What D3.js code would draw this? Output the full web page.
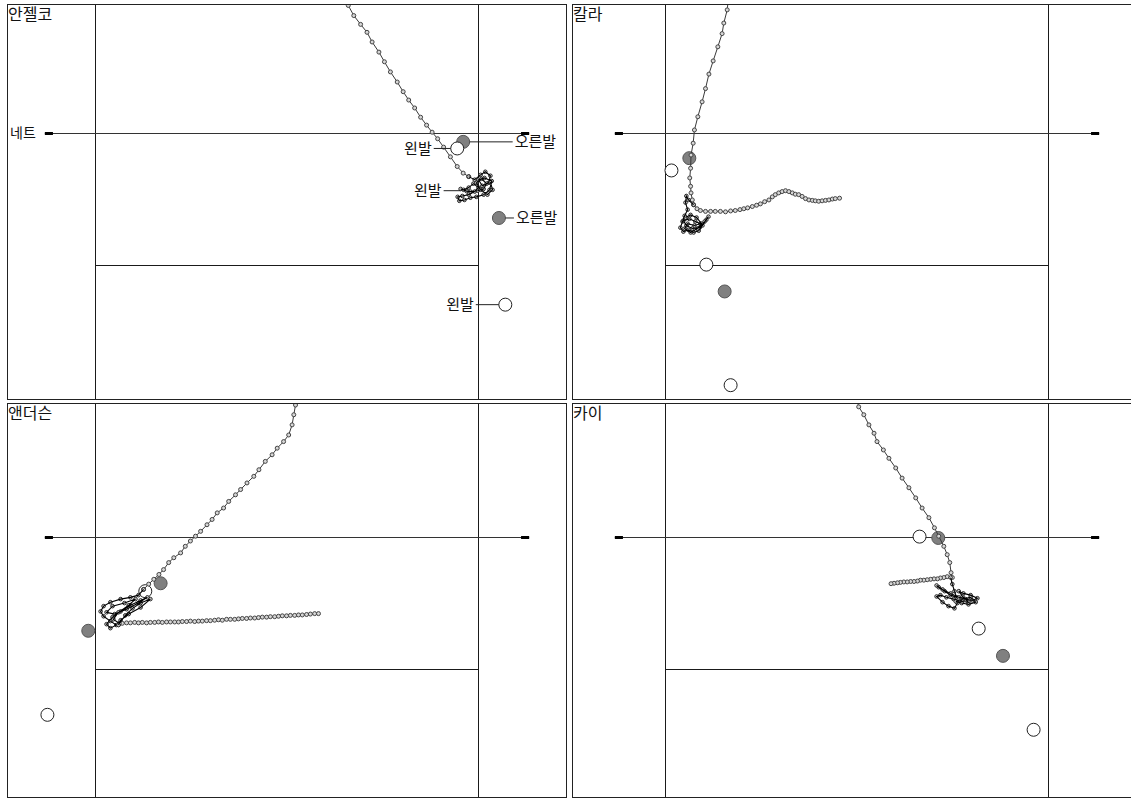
<!DOCTYPE html>
<html>
<head>
<meta charset="utf-8">
<script src="https://cdn.jsdelivr.net/npm/d3@7"></script>
<style>
html, body { margin: 0; padding: 0; background: #fff; }
svg { display: block; font-family: "Noto Sans CJK KR", "Noto Sans", sans-serif; }
</style>
</head>
<body>
<svg id="chart" width="1131" height="798"></svg>
<script>
// ---- Court and labels (metres: x across the court from centre, y from the net) ----
const players = ["안젤코", "칼라", "앤더슨", "카이"];
const netText = "네트";
const courtHalfWidth = 4.5;     // sideline
const attackLine = 3;           // 3 m line
const netHalfLength = 5.69;
const postLength = 0.19;

// ---- 안젤코 ----
const angelkoPath = [[1.39,-3.09],[1.44,-2.91],[1.57,-2.68],[1.73,-2.48],[1.88,-2.30],[2.00,-2.08],[2.16,-1.85],[2.29,-1.63],[2.43,-1.40],[2.59,-1.17],[2.73,-0.95],[2.86,-0.76],[3.00,-0.58],[3.14,-0.37],[3.28,-0.19],[3.41,-0.03],[3.54,0.12],[3.68,0.31],[3.84,0.53],[4.00,0.75],[4.14,0.90],[4.27,0.98]];
const angelkoSwing = [[4.27,0.98],[4.41,1.05],[4.55,0.94],[4.66,0.87],[4.78,0.96],[4.74,1.12],[4.59,1.19],[4.50,1.05],[4.64,1.01],[4.81,1.08],[4.76,1.28],[4.62,1.39],[4.45,1.44],[4.31,1.46],[4.17,1.51],[4.05,1.53],[4.01,1.44],[4.12,1.42],[4.27,1.39],[4.41,1.32],[4.50,1.23],[4.38,1.14],[4.27,1.23],[4.15,1.28],[4.08,1.26],[4.22,1.31],[4.31,1.32],[4.48,1.30],[4.62,1.26],[4.69,1.14],[4.57,1.03],[4.45,1.12],[4.55,1.28],[4.71,1.39],[4.83,1.28],[4.78,1.10]];
const angelkoFeet = [["R",4.14,0.19],["L",4.00,0.34],["R",4.98,1.92],["L",5.13,3.89]];
const angelkoNotes = [["오른발",4.14,0.19],["왼발",4.00,0.34],["왼발",4.08,1.30],["오른발",4.98,1.92],["왼발",5.13,3.89]];

// ---- 칼라 ----
const karlaPath = [[-3.02,-3.09],[-3.05,-2.81],[-3.13,-2.51],[-3.17,-2.27],[-3.27,-1.97],[-3.38,-1.65],[-3.48,-1.35],[-3.56,-1.02],[-3.64,-0.72],[-3.74,-0.38],[-3.82,-0.08],[-3.85,0.22],[-3.90,0.49],[-3.91,0.79],[-3.93,1.01],[-3.91,1.20],[-3.90,1.35],[-3.87,1.51],[-3.84,1.62],[-3.76,1.71],[-3.68,1.75],[-3.56,1.77],[-3.44,1.77],[-3.33,1.77],[-3.21,1.77],[-3.09,1.78],[-2.97,1.76],[-2.86,1.75],[-2.75,1.73],[-2.66,1.71],[-2.57,1.69],[-2.46,1.66],[-2.36,1.63],[-2.27,1.60],[-2.17,1.55],[-2.07,1.51],[-1.99,1.44],[-1.92,1.39],[-1.84,1.35],[-1.76,1.32],[-1.68,1.30],[-1.60,1.32],[-1.52,1.35],[-1.45,1.38],[-1.37,1.39],[-1.29,1.43],[-1.21,1.48],[-1.13,1.51],[-1.05,1.52],[-0.98,1.53],[-0.90,1.54],[-0.82,1.53],[-0.74,1.52],[-0.66,1.51],[-0.58,1.49],[-0.51,1.48],[-0.41,1.47]];
const karlaSwing = [[-3.84,1.62],[-3.96,1.51],[-4.01,1.42],[-4.03,1.57],[-3.98,1.73],[-4.05,1.87],[-4.10,2.00],[-4.15,2.14],[-4.08,2.23],[-3.96,2.19],[-3.84,2.25],[-3.72,2.21],[-3.63,2.09],[-3.54,1.96],[-3.49,1.89],[-3.58,2.00],[-3.70,2.14],[-3.87,2.16],[-4.01,2.09],[-4.08,1.98],[-3.94,1.94],[-3.80,2.00],[-3.68,2.05],[-3.82,2.09],[-3.98,2.05],[-4.05,2.16],[-3.91,2.25],[-3.75,2.16],[-3.65,2.05],[-3.77,1.91],[-3.91,1.85],[-4.03,1.91]];
const karlaFeet = [["R",-3.94,0.56],["L",-4.36,0.84],["L",-3.54,2.98],["R",-3.11,3.59],["L",-2.97,5.72]];

// ---- 앤더슨 ----
const andersonPath = [[0.22,-3.17],[0.20,-3.01],[0.16,-2.79],[0.12,-2.56],[0.04,-2.33],[-0.08,-2.18],[-0.23,-2.03],[-0.35,-1.88],[-0.51,-1.73],[-0.66,-1.54],[-0.78,-1.39],[-0.94,-1.24],[-1.09,-1.09],[-1.21,-0.97],[-1.37,-0.82],[-1.49,-0.67],[-1.64,-0.56],[-1.76,-0.41],[-1.88,-0.29],[-2.03,-0.14],[-2.15,-0.03],[-2.27,0.08],[-2.39,0.20],[-2.50,0.35],[-2.66,0.46],[-2.78,0.57],[-2.90,0.73],[-3.01,0.84],[-3.13,0.95],[-3.25,1.06],[-3.37,1.18]];
const andersonRunout = [[-3.96,1.98],[-3.87,1.95],[-3.77,1.94],[-3.68,1.94],[-3.58,1.93],[-3.49,1.94],[-3.40,1.93],[-3.30,1.94],[-3.21,1.93],[-3.11,1.93],[-3.02,1.92],[-2.93,1.93],[-2.83,1.92],[-2.74,1.92],[-2.64,1.92],[-2.55,1.92],[-2.46,1.91],[-2.36,1.91],[-2.27,1.90],[-2.17,1.91],[-2.08,1.90],[-1.99,1.90],[-1.89,1.89],[-1.80,1.89],[-1.70,1.88],[-1.61,1.87],[-1.52,1.88],[-1.42,1.86],[-1.33,1.86],[-1.23,1.86],[-1.14,1.85],[-1.05,1.84],[-0.95,1.84],[-0.86,1.83],[-0.76,1.83],[-0.67,1.82],[-0.58,1.81],[-0.48,1.81],[-0.39,1.80],[-0.29,1.80],[-0.20,1.79],[-0.11,1.78],[-0.01,1.78],[0.08,1.77],[0.18,1.77],[0.27,1.76],[0.36,1.76],[0.46,1.75],[0.55,1.74],[0.65,1.73],[0.74,1.73]];
const andersonSwing = [[-3.37,1.18],[-3.49,1.31],[-3.68,1.36],[-3.91,1.40],[-4.15,1.47],[-4.31,1.56],[-4.38,1.68],[-4.31,1.79],[-4.15,1.90],[-4.01,1.99],[-4.15,2.06],[-4.24,1.97],[-4.10,1.81],[-3.91,1.68],[-3.68,1.54],[-3.44,1.43],[-3.28,1.36],[-3.49,1.49],[-3.77,1.63],[-4.05,1.74],[-4.24,1.70],[-4.10,1.56],[-3.82,1.49],[-3.56,1.40],[-3.72,1.54],[-3.96,1.70],[-4.08,1.86],[-3.94,1.95],[-3.80,1.77],[-3.63,1.61],[-3.44,1.49],[-3.21,1.40],[-3.44,1.59],[-3.72,1.74],[-3.91,1.88],[-3.96,1.99]];
const andersonFeet = [["R",-2.97,1.04],["L",-3.33,1.22],["R",-4.67,2.12],["L",-5.63,4.03]];

// ---- 카이 ----
const kaiPath = [[-0.01,-3.17],[0.04,-2.97],[0.16,-2.79],[0.28,-2.56],[0.40,-2.37],[0.47,-2.18],[0.62,-1.99],[0.75,-1.80],[0.91,-1.58],[1.06,-1.35],[1.22,-1.13],[1.38,-0.90],[1.53,-0.67],[1.69,-0.45],[1.82,-0.22],[1.92,-0.03],[2.04,0.20],[2.12,0.39],[2.18,0.57],[2.21,0.80],[2.24,0.91],[2.12,0.89],[2.04,0.91],[1.96,0.92],[1.89,0.94],[1.81,0.94],[1.73,0.95],[1.65,0.96],[1.57,0.97],[1.49,0.97],[1.42,0.99],[1.34,1.00],[1.26,1.00],[1.18,1.01],[1.10,1.01],[1.02,1.02],[0.95,1.03],[0.87,1.04],[0.80,1.05]];
const kaiSwing = [[2.20,0.91],[2.24,1.06],[2.29,1.22],[2.34,1.36],[2.20,1.31],[2.06,1.22],[1.92,1.13],[1.87,1.09],[2.01,1.18],[2.20,1.27],[2.39,1.36],[2.55,1.40],[2.71,1.43],[2.83,1.38],[2.67,1.31],[2.50,1.27],[2.39,1.22],[2.48,1.34],[2.62,1.47],[2.43,1.45],[2.27,1.40],[2.10,1.36],[1.96,1.31],[1.87,1.34],[2.01,1.47],[2.15,1.56],[2.29,1.61],[2.36,1.49],[2.48,1.40],[2.67,1.36],[2.79,1.47],[2.62,1.52],[2.46,1.49],[2.32,1.45]];
const kaiFeet = [["L",1.47,-0.02],["R",1.91,0.01],["L",2.86,2.07],["R",3.43,2.69],["L",4.15,4.37]];

// ---- Layout ----
const frameX = [[7.5, 566.5], [572.5, 1131.5]];
const frameY = [[4.5, 399.5], [403.5, 797.5]];
const sideX  = [[95.5, 478.5], [665.5, 1048.5]];
const netY   = [133.5, 537.5];
const lineY  = [265.5, 669.5];
const footR = 6.5;
// leader lines for the foot notes: [gap from target, length]
const noteLeaders = [[6.5, 43], [6.5, 17], [0, 17], [6.5, 8.5], [6.5, 23]];

const panels = [
  { name: players[0], col: 0, row: 0, paths: [angelkoPath], swing: angelkoSwing, feet: angelkoFeet, notes: angelkoNotes, netNote: true },
  { name: players[1], col: 1, row: 0, paths: [karlaPath], swing: karlaSwing, feet: karlaFeet, notes: [] },
  { name: players[2], col: 0, row: 1, paths: [andersonPath, andersonRunout], swing: andersonSwing, feet: andersonFeet, notes: [] },
  { name: players[3], col: 1, row: 1, paths: [kaiPath], swing: kaiSwing, feet: kaiFeet, notes: [] }
];

const svg = d3.select("#chart");
const defs = svg.append("defs");

panels.forEach((p, i) => {
  const fx = frameX[p.col], fy = frameY[p.row];
  const x = d3.scaleLinear().domain([-courtHalfWidth, courtHalfWidth]).range(sideX[p.col]);
  const y = d3.scaleLinear().domain([0, attackLine]).range([netY[p.row], lineY[p.row]]);

  defs.append("clipPath").attr("id", "clip" + i)
    .append("rect").attr("x", fx[0]).attr("y", fy[0])
    .attr("width", fx[1] - fx[0]).attr("height", fy[1] - fy[0]);

  const g = svg.append("g");
  const inner = g.append("g").attr("clip-path", `url(#clip${i})`);

  // sidelines
  [-courtHalfWidth, courtHalfWidth].forEach(v => {
    inner.append("line").attr("x1", x(v)).attr("x2", x(v))
      .attr("y1", fy[0]).attr("y2", fy[1])
      .attr("stroke", "#1a1a1a").attr("stroke-width", 1);
  });
  // attack line
  inner.append("line").attr("x1", x(-courtHalfWidth)).attr("x2", x(courtHalfWidth))
    .attr("y1", y(attackLine)).attr("y2", y(attackLine))
    .attr("stroke", "#1a1a1a").attr("stroke-width", 1);
  // net and posts
  inner.append("line").attr("x1", x(-netHalfLength)).attr("x2", x(netHalfLength))
    .attr("y1", y(0)).attr("y2", y(0))
    .attr("stroke", "#333").attr("stroke-width", 1);
  [[-netHalfLength, -netHalfLength + postLength], [netHalfLength - postLength, netHalfLength]].forEach(s => {
    inner.append("line").attr("x1", x(s[0])).attr("x2", x(s[1]))
      .attr("y1", y(0)).attr("y2", y(0))
      .attr("stroke", "#000").attr("stroke-width", 3);
  });

  // footprints
  inner.selectAll("circle.foot").data(p.feet).join("circle")
    .attr("class", "foot")
    .attr("cx", d => x(d[1])).attr("cy", d => y(d[2])).attr("r", footR)
    .attr("fill", d => d[0] === "R" ? "#808080" : "#fff")
    .attr("stroke", d => d[0] === "R" ? "#555" : "#222")
    .attr("stroke-width", 1);

  const line = d3.line().x(d => x(d[0])).y(d => y(d[1]));

  // approach paths with sample markers
  p.paths.forEach(path => {
    inner.append("path").attr("d", line(path))
      .attr("fill", "none").attr("stroke", "#3a3a3a").attr("stroke-width", 1);
    inner.append("g").selectAll("circle").data(path).join("circle")
      .attr("cx", d => x(d[0])).attr("cy", d => y(d[1])).attr("r", 2)
      .attr("fill", "#d6d6d6").attr("stroke", "#444").attr("stroke-width", 1);
  });

  // swing tangle
  inner.append("g").selectAll("circle").data(p.swing).join("circle")
    .attr("cx", d => x(d[0])).attr("cy", d => y(d[1])).attr("r", 1.8)
    .attr("fill", "#ddd").attr("stroke", "#222").attr("stroke-width", 1);
  inner.append("path").attr("d", line(p.swing))
    .attr("fill", "none").attr("stroke", "#000").attr("stroke-width", 1.1);

  // foot notes
  p.notes.forEach((n, k) => {
    const [gap, len] = noteLeaders[k];
    const cx = x(n[1]), cy = y(n[2]);
    const dir = (n[0] === "오른발") ? 1 : -1;
    const a = cx + dir * gap, b = a + dir * len;
    g.append("line").attr("x1", a).attr("x2", b).attr("y1", cy).attr("y2", cy)
      .attr("stroke", "#222").attr("stroke-width", 1);
    g.append("text").attr("x", b + dir * 2).attr("y", cy)
      .attr("dy", "0.35em")
      .attr("text-anchor", dir > 0 ? "start" : "end")
      .attr("font-size", 15).attr("fill", "#111").text(n[0]);
  });

  if (p.netNote) {
    g.append("text").attr("x", x(-netHalfLength) - 9).attr("y", y(0))
      .attr("dy", "0.35em").attr("text-anchor", "end")
      .attr("font-size", 14).attr("fill", "#111").text(netText);
  }

  // frame and title
  g.append("rect").attr("x", fx[0]).attr("y", fy[0])
    .attr("width", fx[1] - fx[0]).attr("height", fy[1] - fy[0])
    .attr("fill", "none").attr("stroke", "#222").attr("stroke-width", 1);
  g.append("text").attr("x", fx[0] + 0.5).attr("y", fy[0] + 15)
    .attr("font-size", 16).attr("fill", "#111").text(p.name);
});
</script>
</body>
</html>
